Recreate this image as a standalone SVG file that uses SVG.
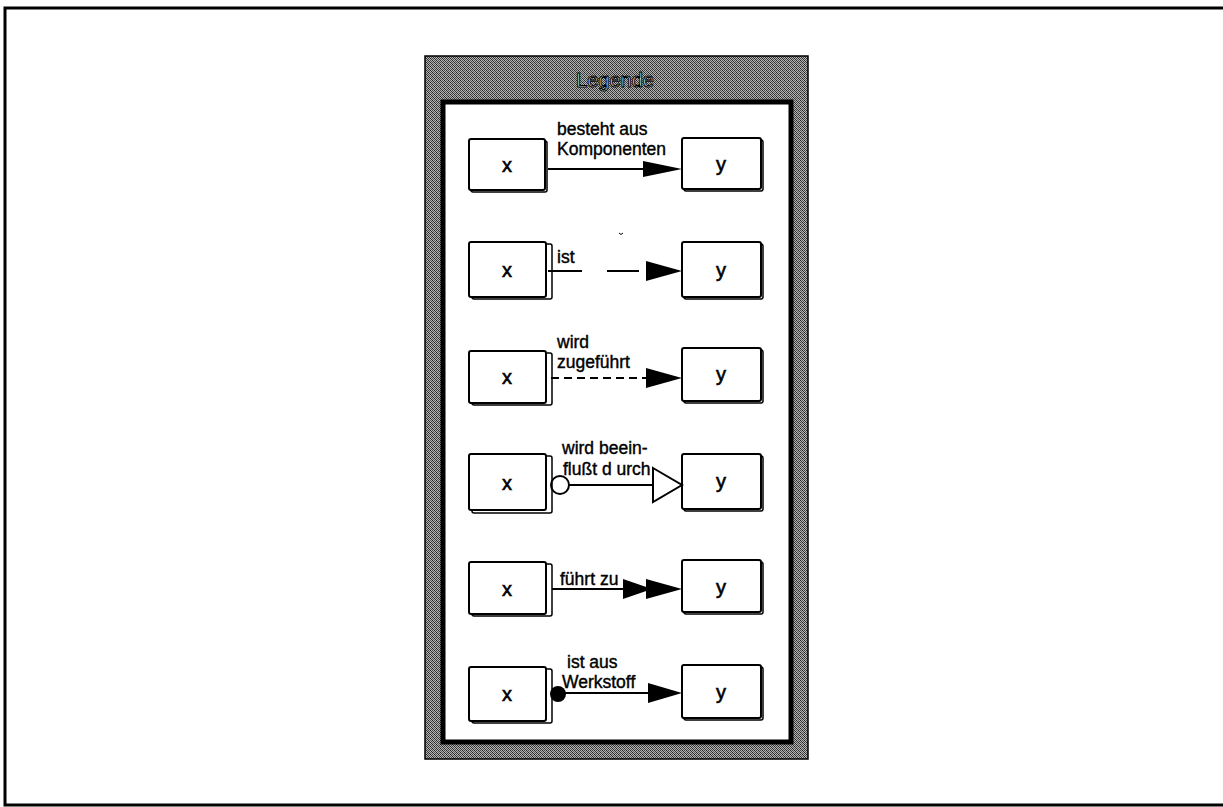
<svg xmlns="http://www.w3.org/2000/svg" width="1223" height="807" viewBox="0 0 1223 807">
<defs>
<pattern id="dither" width="4" height="4" patternUnits="userSpaceOnUse">
<rect width="4" height="4" fill="#b4b4b4"/>
<rect x="0" y="0" width="1" height="1" fill="#222"/>
<rect x="2" y="0" width="1" height="1" fill="#555"/>
<rect x="1" y="1" width="1" height="1" fill="#333"/>
<rect x="3" y="1" width="1" height="1" fill="#444"/>
<rect x="0" y="2" width="1" height="1" fill="#444"/>
<rect x="2" y="2" width="1" height="1" fill="#222"/>
<rect x="1" y="3" width="1" height="1" fill="#555"/>
<rect x="3" y="3" width="1" height="1" fill="#333"/>
</pattern>
</defs>
<style>
.box{fill:#fff;stroke:#000;stroke-width:2}
.sh{fill:#fff;stroke:#000;stroke-width:1.5}
.lbl{font-family:"Liberation Sans",Arial,sans-serif;font-size:17.5px;fill:#000;stroke:#000;stroke-width:0.4}
.var{font-family:"Liberation Sans",Arial,sans-serif;font-size:20px;fill:#000;stroke:#000;stroke-width:0.6;text-anchor:middle}
.ln{stroke:#000;stroke-width:2;fill:none}
.ah{fill:#000}
</style>
<rect x="0" y="0" width="1223" height="807" fill="#fff"/>
<path d="M1223,8 H5 V805 H1223" fill="none" stroke="#000" stroke-width="3"/>

<g id="panel">
<rect x="425" y="56" width="383" height="703" fill="url(#dither)" stroke="#000" stroke-width="1.5"/>
<rect x="443" y="102" width="348" height="640" fill="#fff" stroke="#000" stroke-width="5"/>
<text x="615" y="87" text-anchor="middle" font-family="Liberation Sans,Arial,sans-serif" font-size="20" fill="#fff" stroke="#000" stroke-width="1">Legende</text>
</g>

<g id="row1">
<g id="x1"><rect class="sh" x="471" y="141" width="76" height="51" rx="2"/><rect class="box" x="469" y="139" width="76" height="51" rx="2"/><text class="var" x="507" y="172">x</text></g>
<g id="y1"><rect class="sh" x="684" y="140" width="79" height="51" rx="2"/><rect class="box" x="682" y="138" width="79" height="51" rx="2"/><text class="var" x="721" y="171">y</text></g>
</g>
<g id="row2">
<g id="x2"><rect class="sh" x="472" y="244" width="80" height="55" rx="2"/><rect class="box" x="469" y="242" width="77" height="55" rx="2"/><text class="var" x="507" y="277">x</text></g>
<g id="y2"><rect class="sh" x="684" y="244" width="79" height="55" rx="2"/><rect class="box" x="682" y="242" width="79" height="55" rx="2"/><text class="var" x="721" y="277">y</text></g>
</g>
<g id="row3">
<g id="x3"><rect class="sh" x="472" y="353" width="80" height="52" rx="2"/><rect class="box" x="469" y="351" width="77" height="52" rx="2"/><text class="var" x="507" y="384">x</text></g>
<g id="y3"><rect class="sh" x="684" y="350" width="79" height="53" rx="2"/><rect class="box" x="682" y="348" width="79" height="53" rx="2"/><text class="var" x="721" y="381">y</text></g>
</g>
<g id="row4">
<g id="x4"><rect class="sh" x="472" y="456" width="80" height="57" rx="2"/><rect class="box" x="469" y="454" width="77" height="56" rx="2"/><text class="var" x="507" y="490">x</text></g>
<g id="y4"><rect class="sh" x="684" y="456" width="79" height="55" rx="2"/><rect class="box" x="682" y="454" width="79" height="55" rx="2"/><text class="var" x="721" y="488">y</text></g>
</g>
<g id="row5">
<g id="x5"><rect class="sh" x="472" y="564" width="80" height="52" rx="2"/><rect class="box" x="469" y="562" width="77" height="52" rx="2"/><text class="var" x="507" y="596">x</text></g>
<g id="y5"><rect class="sh" x="684" y="562" width="79" height="52" rx="2"/><rect class="box" x="682" y="560" width="79" height="52" rx="2"/><text class="var" x="721" y="594">y</text></g>
</g>
<g id="row6">
<g id="x6"><rect class="sh" x="472" y="669" width="80" height="54" rx="2"/><rect class="box" x="469" y="667" width="77" height="54" rx="2"/><text class="var" x="507" y="701">x</text></g>
<g id="y6"><rect class="sh" x="684" y="667" width="79" height="53" rx="2"/><rect class="box" x="682" y="665" width="79" height="53" rx="2"/><text class="var" x="721" y="699">y</text></g>
</g>

<g id="connectors">
<line class="ln" x1="548" y1="169" x2="646" y2="169"/>
<path class="ah" d="M643,161 L682,169 L643,177 Z"/>
<path class="ln" d="M548,271 H582 M607,271 H639"/>
<path class="ah" d="M646,261 L682,271 L646,281 Z"/>
<path d="M619,233 l2,1.5 l2,-1.5" stroke="#000" stroke-width="1" fill="none"/>
<path class="ln" d="M551,378 H646" stroke-dasharray="8,5"/>
<path class="ah" d="M646,368 L682,378 L646,388 Z"/>
<line class="ln" x1="569" y1="485" x2="653" y2="485"/>
<circle cx="560" cy="485" r="9" fill="none" stroke="#000" stroke-width="2"/>
<path d="M653,468 L682,485 L653,502 Z" fill="#fff" stroke="#000" stroke-width="2"/>
<line class="ln" x1="552" y1="589" x2="650" y2="589"/>
<path class="ah" d="M623,579 L652,589 L623,599 Z"/>
<path class="ah" d="M646,579 L682,589 L646,599 Z"/>
<line class="ln" x1="558" y1="693" x2="650" y2="693"/>
<circle cx="558" cy="694" r="8" fill="#000"/>
<path class="ah" d="M648,683 L682,693 L648,703 Z"/>
</g>

<g id="labels">
<text class="lbl" x="557" y="135">besteht aus</text>
<text class="lbl" x="557" y="155">Komponenten</text>
<text class="lbl" x="557" y="263">ist</text>
<text class="lbl" x="557" y="348">wird</text>
<text class="lbl" x="557" y="368">zugeführt</text>
<text class="lbl" x="562" y="454">wird beein-</text>
<text class="lbl" x="563" y="475">flußt d urch</text>
<text class="lbl" x="560" y="585">führt zu</text>
<text class="lbl" x="567" y="668">ist aus</text>
<text class="lbl" x="562" y="688">Werkstoff</text>
</g>
</svg>
